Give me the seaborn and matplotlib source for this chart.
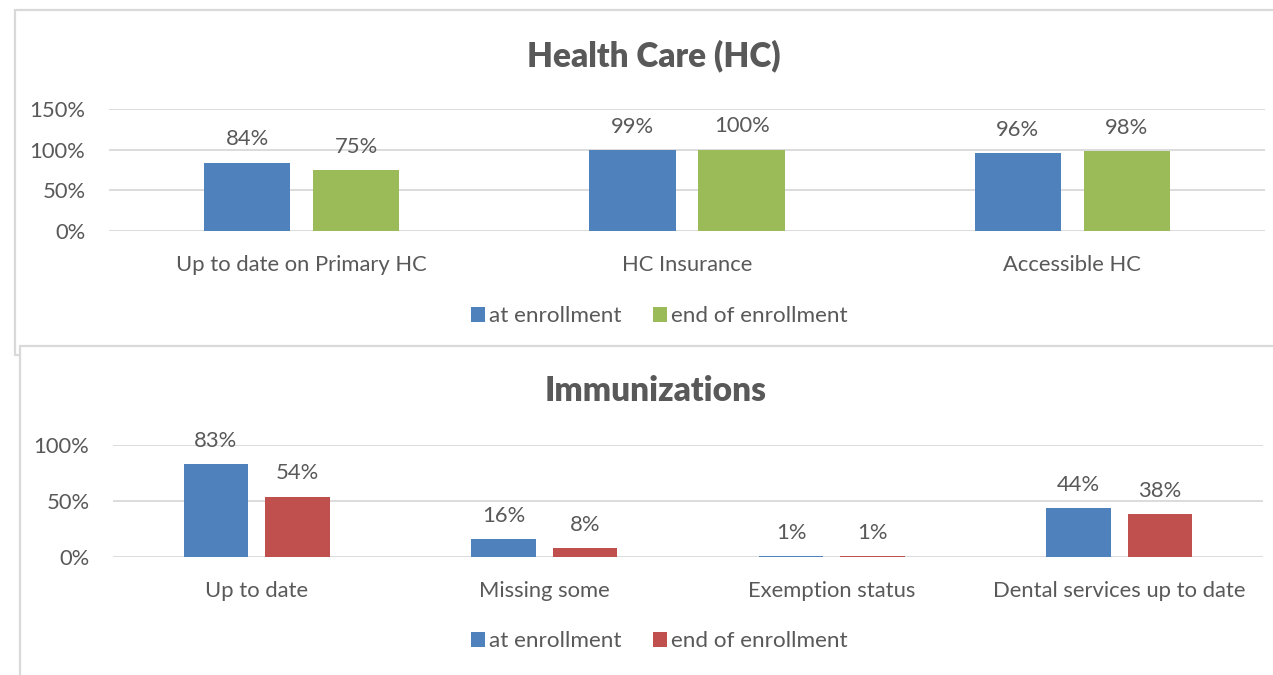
import matplotlib
matplotlib.use("Agg")
import matplotlib.pyplot as plt
from matplotlib.patches import Rectangle
import seaborn as sns
import pandas as pd

# ---------------- data ----------------
hc_categories = ["Up to date on Primary HC", "HC Insurance", "Accessible HC"]
hc_at_enrollment = [0.84, 0.99, 0.96]
hc_end_enrollment = [0.75, 1.00, 0.98]
hc_yticks = [0.0, 0.5, 1.0, 1.5]

imm_categories = ["Up to date", "Missing some", "Exemption status", "Dental services up to date"]
imm_at_enrollment = [0.83, 0.16, 0.01, 0.44]
imm_end_enrollment = [0.54, 0.08, 0.01, 0.38]
imm_yticks = [0.0, 0.5, 1.0]

series_names = ["at enrollment", "end of enrollment"]

# ---------------- style ----------------
sns.set_theme(style="white")
plt.rcParams["font.family"] = ["Lato", "DejaVu Sans"]
TXT = "#595959"
GRID = "#D9D9D9"
BLUE = "#4F81BD"
GREEN = "#9BBB59"
RED = "#C0504D"
FS = 15.8

W, H = 1273, 675
fig = plt.figure(figsize=(W / 100, H / 100), dpi=100)
fig.patch.set_facecolor("white")


def fx(px):
    return px / W


def fy(py):
    return 1 - py / H


# panel borders
fig.patches.append(Rectangle((fx(15), fy(355)), fx(1300 - 15), fy(10) - fy(355),
                             transform=fig.transFigure, facecolor="white",
                             edgecolor=GRID, lw=1.6, zorder=-3))
fig.patches.append(Rectangle((fx(20), fy(690)), fx(1300 - 20), fy(346) - fy(690),
                             transform=fig.transFigure, facecolor="white",
                             edgecolor=GRID, lw=1.6, zorder=-2))


def panel(rect, cats, a, b, color2, yticks, ymax):
    ax = fig.add_axes(rect)
    ax.set_facecolor("none")
    df = pd.DataFrame({
        "cat": cats * 2,
        "val": list(a) + list(b),
        "series": [series_names[0]] * len(cats) + [series_names[1]] * len(cats),
    })
    sns.barplot(data=df, x="cat", y="val", hue="series", order=cats,
                hue_order=series_names, palette=[BLUE, color2],
                width=0.567, gap=0.21, ax=ax, saturation=1, errorbar=None,
                linewidth=0, zorder=3)
    for cont in ax.containers:
        ax.bar_label(cont, labels=[f"{v*100:.0f}%" for v in cont.datavalues],
                     padding=9.5, fontsize=FS, color=TXT)
    ax.set_ylim(0, ymax)
    ax.set_xlim(-0.5, len(cats) - 0.5)
    ax.set_yticks(yticks)
    ax.set_yticklabels([f"{t*100:.0f}%" for t in yticks])
    ax.yaxis.grid(True, color=GRID, lw=1.3, zorder=0)
    ax.set_axisbelow(True)
    for s in ax.spines.values():
        s.set_visible(False)
    ax.tick_params(axis="x", length=0, pad=17, labelsize=FS, labelcolor=TXT)
    ax.tick_params(axis="y", length=0, pad=17, labelsize=FS, labelcolor=TXT)
    ax.set_xlabel("")
    ax.set_ylabel("")
    handles, labels = ax.get_legend_handles_labels()
    if ax.get_legend() is not None:
        ax.get_legend().remove()
    return ax, handles, labels


ax1, h1, l1 = panel([fx(109), fy(231), fx(1265 - 109), fy(109) - fy(231)],
                    hc_categories, hc_at_enrollment, hc_end_enrollment, GREEN,
                    hc_yticks, 1.5)
ax2, h2, l2 = panel([fx(113), fy(557), fx(1263 - 113), fy(445) - fy(557)],
                    imm_categories, imm_at_enrollment, imm_end_enrollment, RED,
                    imm_yticks, 1.0)

fig.text(fx(654), fy(56), "Health Care (HC)", ha="center", va="center",
         fontsize=24, fontweight="heavy", color=TXT)
fig.text(fx(656), fy(391), "Immunizations", ha="center", va="center",
         fontsize=24, fontweight="heavy", color=TXT)

for handles, labels, ycen in [(h1, l1, 316), (h2, l2, 641)]:
    fig.legend(handles, labels, loc="center", bbox_to_anchor=(fx(659), fy(ycen)),
               ncol=2, frameon=False, fontsize=16.2, labelcolor=TXT,
               handlelength=0.65, handleheight=0.65, handletextpad=0.15,
               columnspacing=1.4)

fig.savefig("out.png", dpi=100, facecolor="white")
